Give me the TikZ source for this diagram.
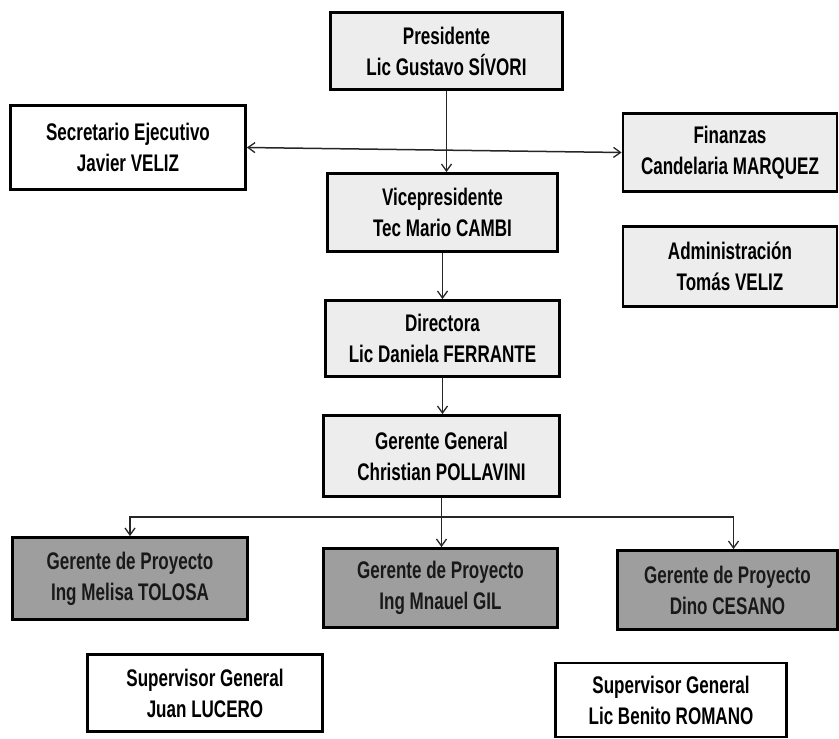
\documentclass[tikz,border=0pt]{standalone}
\usepackage{fontspec}
\setmainfont{Liberation Sans}[FakeStretch=0.71]
\usetikzlibrary{arrows.meta}
\tikzset{
  box/.style={draw=black, line width=2.8pt, align=center, inner sep=0pt,
    font=\fontsize{24}{31}\selectfont\bfseries, text=black},
  lbox/.style={box, fill=black!7},
  wbox/.style={box, fill=white},
  dbox/.style={box, fill=black!38, text=black!90},
  conn/.style={line width=1.5pt, draw=black!85},
  arr/.style={conn, -{Straight Barb[length=7pt,width=10pt,line width=1.3pt]}},
  darr/.style={conn, {Straight Barb[length=7pt,width=10pt,line width=1.3pt]}-{Straight Barb[length=7pt,width=10pt,line width=1.3pt]}}
}
\newcommand{\bx}[6]{\node[#1, minimum width=#4pt, minimum height=#5pt] (#2) at #3 {#6};}
\begin{document}
\begin{tikzpicture}[x=1pt,y=-1pt]
\useasboundingbox (0,0) rectangle (839,739);
\bx{lbox}{pres}{(446.5,51)}{232}{77}{Presidente\\Lic Gustavo SÍVORI}
\bx{wbox}{sec}{(128,147.5)}{235}{84}{Secretario Ejecutivo\\Javier VELIZ}
\bx{lbox}{fin}{(730,152.5)}{214}{78}{Finanzas\\Candelaria MARQUEZ}
\bx{lbox}{adm}{(730,266.5)}{214}{80}{Administración\\Tomás VELIZ}
\bx{lbox}{vice}{(442.5,212.5)}{230}{78}{Vicepresidente\\Tec Mario CAMBI}
\bx{lbox}{dir}{(442.5,338.5)}{234}{76}{Directora\\Lic Daniela FERRANTE}
\bx{lbox}{gg}{(441.5,456)}{236}{81}{Gerente General\\Christian POLLAVINI}
\bx{dbox}{p1}{(130,578.5)}{235}{82}{Gerente de Proyecto\\Ing Melisa TOLOSA}
\bx{dbox}{p2}{(440.5,588)}{234}{79}{Gerente de Proyecto\\Ing Mnauel GIL}
\bx{dbox}{p3}{(727.5,590)}{220}{79}{Gerente de Proyecto\\Dino CESANO}
\bx{wbox}{s1}{(205,693)}{235}{77}{Supervisor General\\Juan LUCERO}
\bx{wbox}{s2}{(671,700)}{231}{74}{Supervisor General\\Lic Benito ROMANO}
% connectors
\draw[arr] (pres.south) -- (pres.south |- vice.north);
\draw[darr] (sec.east) -- (fin.west);
\draw[arr] (vice.south) -- (dir.north);
\draw[arr] (dir.south) -- (dir.south |- gg.north);
\coordinate (bus) at (443,517);
\draw[conn] (gg.south) -- (gg.south |- bus);
\draw[arr] (gg.south |- bus) -| (p1.north);
\draw[arr] (gg.south |- bus) -- (gg.south |- p2.north);
\draw[arr] (gg.south |- bus) -| ([xshift=6pt]p3.north);
\end{tikzpicture}
\end{document}
